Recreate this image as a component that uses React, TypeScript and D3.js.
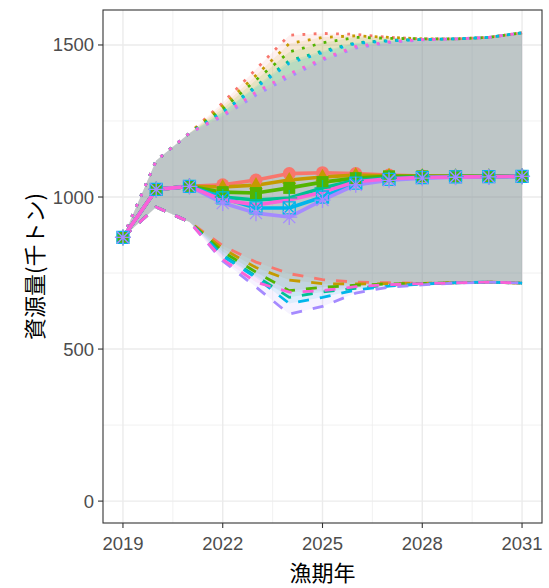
import React from "react";
import * as d3 from "d3";

// 漁期年
const years = [2019, 2020, 2021, 2022, 2023, 2024, 2025, 2026, 2027, 2028, 2029, 2030, 2031];
const xTicks = [2019, 2022, 2025, 2028, 2031];
const yTicks = [0, 500, 1000, 1500];

// シナリオ（色の順）
const scenarios = ["s1", "s2", "s3", "s4", "s5", "s6", "s7"];

// 資源量の中央値（千トン）
const median = [
  [867, 1025, 1035, 1040, 1056, 1077, 1080, 1077, 1072, 1069, 1068, 1068, 1069],
  [867, 1025, 1035, 1033, 1039, 1056, 1066, 1072, 1070, 1069, 1068, 1068, 1069],
  [867, 1025, 1035, 1016, 1013, 1030, 1049, 1062, 1068, 1068, 1068, 1068, 1069],
  [867, 1025, 1035, 1000, 990, 997, 1030, 1055, 1062, 1066, 1067, 1067, 1068],
  [867, 1025, 1035, 997, 964, 964, 1000, 1046, 1058, 1064, 1066, 1067, 1068],
  [867, 1025, 1035, 980, 947, 934, 990, 1040, 1055, 1062, 1065, 1066, 1068],
  [867, 1025, 1035, 990, 974, 990, 1016, 1050, 1060, 1065, 1066, 1067, 1068],
];

// 上側（点線）
const upper = [
  [867, 1120, 1210, 1310, 1420, 1532, 1538, 1535, 1525, 1520, 1520, 1525, 1540],
  [867, 1120, 1210, 1300, 1400, 1505, 1525, 1530, 1525, 1520, 1520, 1525, 1540],
  [867, 1120, 1210, 1290, 1385, 1477, 1507, 1525, 1522, 1520, 1520, 1525, 1540],
  [867, 1120, 1210, 1280, 1365, 1448, 1480, 1507, 1515, 1518, 1520, 1525, 1540],
  [867, 1120, 1210, 1278, 1360, 1440, 1475, 1505, 1513, 1518, 1520, 1525, 1540],
  [867, 1120, 1210, 1265, 1335, 1395, 1450, 1490, 1508, 1517, 1520, 1525, 1540],
  [867, 1120, 1210, 1270, 1345, 1405, 1455, 1495, 1510, 1518, 1520, 1525, 1540],
];

// 下側（破線）
const lower = [
  [867, 967, 918, 840, 786, 748, 728, 720, 718, 716, 718, 720, 717],
  [867, 967, 918, 830, 768, 727, 715, 714, 715, 716, 718, 720, 717],
  [867, 967, 918, 820, 753, 692, 703, 710, 714, 716, 718, 720, 717],
  [867, 967, 918, 810, 740, 670, 688, 700, 710, 715, 718, 720, 717],
  [867, 967, 918, 805, 735, 650, 670, 694, 707, 714, 718, 720, 717],
  [867, 967, 918, 790, 704, 615, 640, 684, 704, 711, 717, 720, 717],
  [867, 967, 918, 795, 720, 687, 692, 705, 712, 715, 718, 720, 717],
];

// ggplotのhue palette
const palette = ["#F8766D", "#C49A00", "#53B400", "#00C094", "#00B6EB", "#A58AFF", "#FB61D7"];
const shapes = ["circle", "triangle", "square", "plus", "squarex", "asterisk", "none"];

const W = 549;
const H = 588;
const panel = { left: 103, right: 542, top: 10, bottom: 523 };

const Point = ({ shape, x, y, color }: { shape: string; x: number; y: number; color: string }) => {
  const r = 6.5;
  if (shape === "circle") return <circle cx={x} cy={y} r={r} fill={color} />;
  if (shape === "square") return <rect x={x - 6} y={y - 6} width={12} height={12} fill={color} />;
  if (shape === "triangle") {
    const s = 14;
    const h = (s * Math.sqrt(3)) / 2;
    return <path d={`M${x},${y - (2 * h) / 3}L${x + s / 2},${y + h / 3}L${x - s / 2},${y + h / 3}Z`} fill={color} />;
  }
  const sw = 1.3;
  if (shape === "plus")
    return (
      <path d={`M${x - 8},${y}H${x + 8}M${x},${y - 8}V${y + 8}`} stroke={color} strokeWidth={sw} fill="none" />
    );
  if (shape === "squarex")
    return (
      <path
        d={`M${x - 6},${y - 6}H${x + 6}V${y + 6}H${x - 6}ZM${x - 6},${y - 6}L${x + 6},${y + 6}M${x + 6},${y - 6}L${x - 6},${y + 6}`}
        stroke={color}
        strokeWidth={sw}
        fill="none"
      />
    );
  if (shape === "asterisk")
    return (
      <path
        d={`M${x - 8},${y}H${x + 8}M${x},${y - 8}V${y + 8}M${x - 6},${y - 6}L${x + 6},${y + 6}M${x + 6},${y - 6}L${x - 6},${y + 6}`}
        stroke={color}
        strokeWidth={sw}
        fill="none"
      />
    );
  return null;
};

export default function App() {
  const x = d3.scaleLinear().domain([2018.4, 2031.6]).range([panel.left, panel.right]);
  const y = d3.scaleLinear().domain([-72, 1615]).range([panel.bottom, panel.top]);

  const xMinor = d3.pairs(xTicks).map(([a, b]) => (a + b) / 2);
  const yMinor = d3.pairs(yTicks).map(([a, b]) => (a + b) / 2);

  const line = d3
    .line<number>()
    .x((_, i) => x(years[i]))
    .y((d) => y(d));

  // 各シナリオの上下の幅
  const ribbon = (k: number) =>
    d3
      .area<number>()
      .x((_, i) => x(years[i]))
      .y0((_, i) => y(lower[k][i]))
      .y1((d) => y(d))(upper[k]) as string;

  const tickFont = "'Liberation Sans', Arial, sans-serif";
  const jpFont = "'Noto Sans CJK JP', sans-serif";

  return (
    <svg width={W} height={H} style={{ position: "absolute", left: 0, top: 0, background: "#fff" }}>
      <rect x={0} y={0} width={W} height={H} fill="#fff" />
      {/* grid */}
      <g>
        {yMinor.map((t) => (
          <line key={"ym" + t} x1={panel.left} x2={panel.right} y1={y(t)} y2={y(t)} stroke="#EBEBEB" strokeWidth={0.7} />
        ))}
        {xMinor.map((t) => (
          <line key={"xm" + t} y1={panel.top} y2={panel.bottom} x1={x(t)} x2={x(t)} stroke="#EBEBEB" strokeWidth={0.7} />
        ))}
        {yTicks.map((t) => (
          <line key={"yM" + t} x1={panel.left} x2={panel.right} y1={y(t)} y2={y(t)} stroke="#EBEBEB" strokeWidth={1.4} />
        ))}
        {xTicks.map((t) => (
          <line key={"xM" + t} y1={panel.top} y2={panel.bottom} x1={x(t)} x2={x(t)} stroke="#EBEBEB" strokeWidth={1.4} />
        ))}
      </g>
      {/* ribbons */}
      <g>
        {scenarios.map((s, k) => (
          <path key={"rb" + s} d={ribbon(k)} fill={palette[k]} fillOpacity={0.1} />
        ))}
      </g>
      {/* upper dotted and lower dashed */}
      <g fill="none">
        {scenarios.map((s, k) => (
          <path key={"up" + s} d={line(upper[k]) as string} stroke={palette[k]} strokeWidth={2.8} strokeDasharray="2.8 8.4" />
        ))}
        {scenarios.map((s, k) => (
          <path key={"lo" + s} d={line(lower[k]) as string} stroke={palette[k]} strokeWidth={2.8} strokeDasharray="11 11" />
        ))}
      </g>
      {/* medians */}
      <g fill="none">
        {scenarios.map((s, k) => (
          <path key={"md" + s} d={line(median[k]) as string} stroke={palette[k]} strokeWidth={3.6} strokeLinejoin="round" />
        ))}
      </g>
      <g>
        {scenarios.map((s, k) =>
          median[k].map((v, i) => <Point key={s + i} shape={shapes[k]} x={x(years[i])} y={y(v)} color={palette[k]} />)
        )}
      </g>
      {/* panel border */}
      <rect
        x={panel.left}
        y={panel.top}
        width={panel.right - panel.left}
        height={panel.bottom - panel.top}
        fill="none"
        stroke="#333333"
        strokeWidth={1.1}
      />
      {/* y axis */}
      <g>
        {yTicks.map((t) => (
          <g key={"yt" + t}>
            <line x1={panel.left - 5} x2={panel.left} y1={y(t)} y2={y(t)} stroke="#333333" strokeWidth={1.1} />
            <text
              x={panel.left - 9}
              y={y(t)}
              textAnchor="end"
              dominantBaseline="central"
              fontFamily={tickFont}
              fontSize={18.5}
              fill="#4D4D4D"
            >
              {t}
            </text>
          </g>
        ))}
      </g>
      {/* x axis */}
      <g>
        {xTicks.map((t) => (
          <g key={"xt" + t}>
            <line x1={x(t)} x2={x(t)} y1={panel.bottom} y2={panel.bottom + 5} stroke="#333333" strokeWidth={1.1} />
            <text
              x={x(t)}
              y={panel.bottom + 20}
              textAnchor="middle"
              dominantBaseline="central"
              fontFamily={tickFont}
              fontSize={18.5}
              fill="#4D4D4D"
            >
              {t}
            </text>
          </g>
        ))}
      </g>
      <text
        x={(panel.left + panel.right) / 2}
        y={571}
        textAnchor="middle"
        dominantBaseline="central"
        fontFamily={jpFont}
        fontSize={22}
        fill="#000"
      >
        漁期年
      </text>
      <text
        transform={`translate(33,${(panel.top + panel.bottom) / 2}) rotate(-90)`}
        textAnchor="middle"
        dominantBaseline="central"
        fontFamily={jpFont}
        fontSize={22}
        fill="#000"
      >
        資源量(千トン)
      </text>
    </svg>
  );
}
